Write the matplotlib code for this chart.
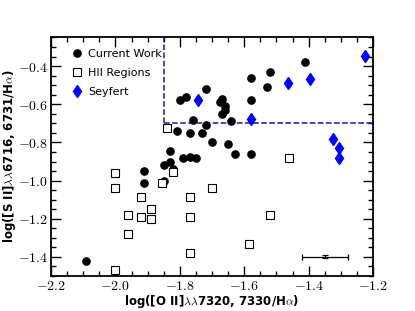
import matplotlib
matplotlib.use('Agg')
import matplotlib.pyplot as plt
from matplotlib.ticker import MultipleLocator, FixedLocator, FixedFormatter

plt.rcParams['mathtext.fontset'] = 'cm'

# Current work (black dots)
cw_x = [-2.09, -1.91, -1.91, -1.85, -1.85, -1.83, -1.82, -1.83, -1.79, -1.77,
        -1.75, -1.81, -1.77, -1.73, -1.70, -1.65, -1.63, -1.58, -1.72, -1.76,
        -1.64, -1.80, -1.78, -1.72, -1.675, -1.67, -1.66, -1.66, -1.67, -1.58,
        -1.58, -1.53, -1.52, -1.41]
cw_y = [-1.42, -0.95, -1.01, -1.00, -0.92, -0.90, -0.94, -0.845, -0.88, -0.875,
        -0.88, -0.74, -0.75, -0.75, -0.80, -0.81, -0.86, -0.86, -0.71, -0.68,
        -0.69, -0.58, -0.56, -0.52, -0.59, -0.57, -0.61, -0.63, -0.65, -0.46,
        -0.58, -0.51, -0.43, -0.38]

# HII regions (open squares)
hii_x = [-2.00, -2.00, -1.92, -1.96, -1.92, -1.89, -1.89, -1.96, -1.77, -1.77,
         -1.77, -1.70, -1.82, -1.855, -2.00, -1.84, -1.46, -1.52, -1.585]
hii_y = [-0.96, -1.04, -1.085, -1.18, -1.19, -1.15, -1.20, -1.28, -1.085, -1.19,
         -1.38, -1.04, -0.955, -1.015, -1.47, -0.725, -0.88, -1.18, -1.33]

# Seyferts (blue diamonds)
sey_x = [-1.745, -1.58, -1.465, -1.395, -1.225, -1.325, -1.305, -1.305]
sey_y = [-0.58, -0.675, -0.49, -0.47, -0.345, -0.78, -0.83, -0.88]

# typical error bar
err_x, err_y = -1.35, -1.40
err_dx, err_dy = 0.072, 0.008

# dashed boundary
box_x, box_y = -1.85, -0.70

xticks = [-2.2, -2.0, -1.8, -1.6, -1.4, -1.2]
yticks = [-1.4, -1.2, -1.0, -0.8, -0.6, -0.4]

fig = plt.figure(figsize=(4.15, 3.11), dpi=100)
ax = fig.add_axes([0.123, 0.1125, 0.776, 0.77])

ax.plot(cw_x, cw_y, 'o', color='black', markersize=5.2, label='Current Work', zorder=3)
ax.plot(hii_x, hii_y, 's', mfc='white', mec='black', mew=0.8, markersize=5.2,
        label='HII Regions', zorder=4)
ax.plot(sey_x, sey_y, 'd', color='blue', markersize=6.5, label='Seyfert', zorder=3)

ax.errorbar([err_x], [err_y], xerr=[err_dx], yerr=[err_dy], fmt='none',
            ecolor='black', elinewidth=0.9, capsize=2, capthick=0.9)

ax.plot([box_x, box_x], [box_y, 0], '--', color='#1a1a9a', lw=1.1, zorder=2)
ax.plot([box_x, -1.2], [box_y, box_y], '--', color='#1a1a9a', lw=1.1, zorder=2)

ax.set_xlim(-2.2, -1.2)
ax.set_ylim(-1.5, -0.245)

ax.xaxis.set_major_locator(FixedLocator(xticks))
ax.xaxis.set_major_formatter(FixedFormatter([r'$%.1f$' % v for v in xticks]))
ax.yaxis.set_major_locator(FixedLocator(yticks))
ax.yaxis.set_major_formatter(FixedFormatter([r'$%.1f$' % v for v in yticks]))
ax.xaxis.set_minor_locator(MultipleLocator(0.05))
ax.yaxis.set_minor_locator(MultipleLocator(0.05))
ax.tick_params(which='both', direction='in', top=True, right=True, width=1.0)
ax.tick_params(which='major', length=7, labelsize=10, pad=2)
ax.tick_params(which='minor', length=3.5)
for s in ax.spines.values():
    s.set_linewidth(1.3)

ax.set_xlabel(r'log([O II]$\lambda\lambda$7320, 7330/H$\alpha$)', fontsize=8.5,
              fontweight='bold', labelpad=0)
ax.set_ylabel(r'log([S II]$\lambda\lambda$6716, 6731/H$\alpha$)', fontsize=8.5,
              fontweight='bold', labelpad=0)

ax.legend(loc='upper left', bbox_to_anchor=(0.047, 0.965), frameon=False, fontsize=8,
          handletextpad=0.35, labelspacing=0.8, borderaxespad=0.0, handlelength=1.2)

fig.savefig('out.png', dpi=100)
